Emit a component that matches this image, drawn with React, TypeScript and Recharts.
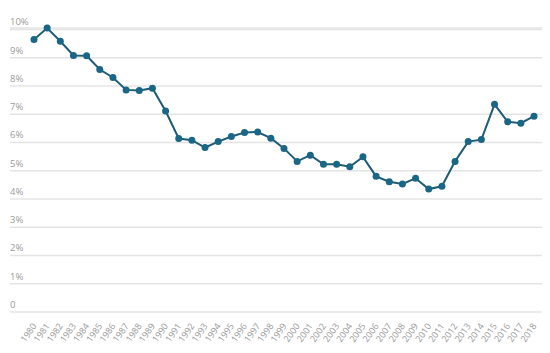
// 1980–2018 年度比率趋势折线图
import { LineChart, Line, XAxis, YAxis, CartesianGrid } from 'recharts'

const years = [
    '1980', '1981', '1982', '1983', '1984', '1985', '1986', '1987', '1988', '1989',
    '1990', '1991', '1992', '1993', '1994', '1995', '1996', '1997', '1998', '1999',
    '2000', '2001', '2002', '2003', '2004', '2005', '2006', '2007', '2008', '2009',
    '2010', '2011', '2012', '2013', '2014', '2015', '2016', '2017', '2018',
]

const rates = [
    9.64, 10.05, 9.58, 9.08, 9.07, 8.58, 8.3, 7.86, 7.84, 7.92,
    7.11, 6.14, 6.08, 5.82, 6.03, 6.21, 6.35, 6.37, 6.15, 5.79,
    5.33, 5.55, 5.23, 5.23, 5.14, 5.49, 4.8, 4.61, 4.53, 4.73,
    4.35, 4.45, 5.33, 6.03, 6.1, 7.35, 6.73, 6.68, 6.93,
]

const yTicks = [0, 1, 2, 3, 4, 5, 6, 7, 8, 9, 10]
const yTickLabels = ['0', '1%', '2%', '3%', '4%', '5%', '6%', '7%', '8%', '9%', '10%']

const data = years.map((year, i) => ({ year, rate: rates[i] }))

const FONT = '"Open Sans", "DejaVu Sans", sans-serif'

function YTick(props: any) {
    const { y, payload } = props
    return (
        <text x={10} y={y - 4} fontSize={9.5} fill="#9a9a9a" fontFamily={FONT} textAnchor="start">
            {yTickLabels[yTicks.indexOf(payload.value)]}
        </text>
    )
}

function XTick(props: any) {
    const { x, y, payload } = props
    return (
        <g transform={`translate(${x + 3},${y + 6})`}>
            <text x={0} y={0} fontSize={9} fill="#9a9a9a" fontFamily={FONT} textAnchor="end" transform="rotate(-55)">
                {payload.value}
            </text>
        </g>
    )
}

export default function App() {
    return (
        <div style={{ position: 'absolute', left: 0, top: 0, background: '#fff' }}>
            <LineChart width={550} height={353} data={data} margin={{ top: 28, right: 8, left: 9, bottom: 0 }}>
                <CartesianGrid horizontal vertical={false} stroke="#e4e4e4" strokeWidth={1.5} />
                <XAxis
                    dataKey="year"
                    interval={0}
                    axisLine={false}
                    tickLine={false}
                    height={41}
                    padding={{ left: 24, right: 8 }}
                    tick={(p: any) => <XTick {...p} />}
                />
                <YAxis
                    domain={[0, 10]}
                    ticks={yTicks}
                    interval={0}
                    width={1}
                    axisLine={false}
                    tickLine={false}
                    tick={(p: any) => <YTick {...p} />}
                />
                <Line
                    dataKey="rate"
                    type="linear"
                    stroke="#1f5c76"
                    strokeWidth={2}
                    dot={{ r: 3.5, fill: '#1a6687', stroke: '#1a6687', strokeWidth: 0 }}
                    isAnimationActive={false}
                />
            </LineChart>
        </div>
    )
}
